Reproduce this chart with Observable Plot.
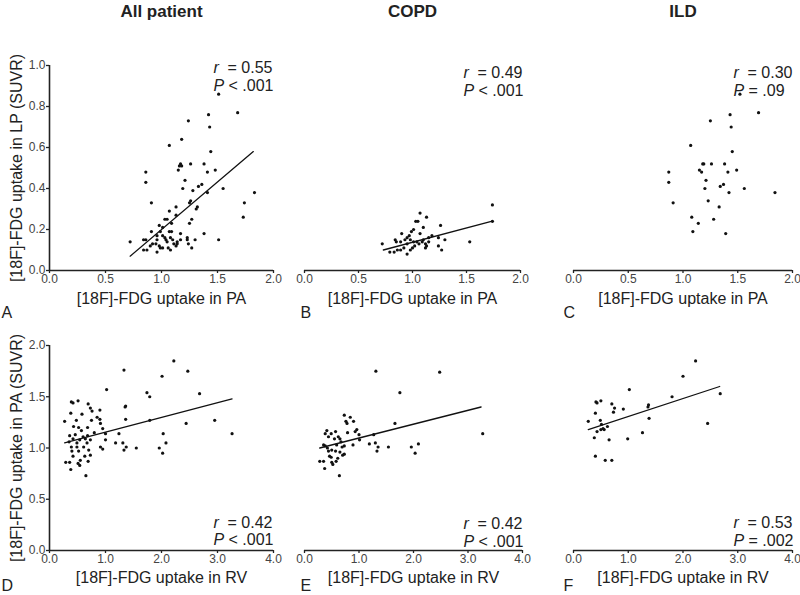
<!DOCTYPE html>
<html><head><meta charset="utf-8">
<script src="https://cdn.jsdelivr.net/npm/d3@7"></script>
<script src="https://cdn.jsdelivr.net/npm/@observablehq/plot@0.6"></script>
<style>
body{margin:0;background:#fff;}
#wrap{position:relative;width:800px;height:595px;overflow:hidden;font-family:"Liberation Sans",Arial,sans-serif;}
#wrap > div{position:absolute;}
</style></head><body><div id="wrap"></div>
<script>
// ---- data: [x, y] pairs ----
// Row 1: x = [18F]-FDG uptake in PA, y = [18F]-FDG uptake in LP (SUVR)
const pointsAllPA = [[1.51,0.86],[1.68,0.77],[1.42,0.76],[1.24,0.73],[1.43,0.70],[1.18,0.64],[1.07,0.61],[1.44,0.58],[0.86,0.48],[0.86,0.43],[1.17,0.52],[1.18,0.51],[1.16,0.51],[1.26,0.52],[1.38,0.52],[1.15,0.49],[1.48,0.49],[1.41,0.48],[1.21,0.44],[1.55,0.40],[1.19,0.40],[1.36,0.42],[1.33,0.41],[1.28,0.39],[1.41,0.38],[1.83,0.38],[0.91,0.33],[1.26,0.34],[1.25,0.33],[1.74,0.33],[1.13,0.31],[1.32,0.31],[1.31,0.30],[1.07,0.29],[1.13,0.27],[1.03,0.25],[1.05,0.25],[1.27,0.25],[1.73,0.26],[1.25,0.23],[1.09,0.23],[0.98,0.22],[1.01,0.21],[0.91,0.19],[0.99,0.19],[1.07,0.19],[1.09,0.19],[1.17,0.18],[1.38,0.18],[0.72,0.14],[0.84,0.15],[0.86,0.15],[0.96,0.17],[1.01,0.17],[1.04,0.15],[1.05,0.14],[1.10,0.15],[1.14,0.14],[1.17,0.15],[1.23,0.16],[1.23,0.15],[1.30,0.15],[1.51,0.15],[0.92,0.13],[0.95,0.13],[0.98,0.12],[0.99,0.11],[0.96,0.09],[1.01,0.11],[1.11,0.13],[1.13,0.12],[1.14,0.13],[1.24,0.13],[1.27,0.11],[0.84,0.10],[0.87,0.10],[0.90,0.12],[1.06,0.11],[1.08,0.10],[0.96,0.15],[1.03,0.16],[1.08,0.16]];
const fitAllPA = [[0.72,0.07],[1.82,0.58]];

const pointsCopdPA = [[1.74,0.32],[1.74,0.24],[1.07,0.28],[1.13,0.26],[1.03,0.24],[1.05,0.24],[1.26,0.22],[1.01,0.20],[0.99,0.19],[1.07,0.18],[0.90,0.18],[1.10,0.21],[0.97,0.17],[1.18,0.17],[1.24,0.16],[1.30,0.15],[1.53,0.14],[0.72,0.13],[0.84,0.15],[0.85,0.14],[0.95,0.13],[0.98,0.15],[1.01,0.14],[1.04,0.14],[1.06,0.13],[1.09,0.14],[1.12,0.13],[1.13,0.12],[1.15,0.14],[1.24,0.12],[1.27,0.10],[0.79,0.09],[0.83,0.09],[0.86,0.10],[0.89,0.10],[0.92,0.11],[0.95,0.08],[0.98,0.10],[1.00,0.11],[1.02,0.12],[1.12,0.11],[0.95,0.16],[0.89,0.14],[0.93,0.15],[1.15,0.16],[1.10,0.15]];
const fitCopdPA = [[0.73,0.10],[1.73,0.24]];

const pointsIldPA = [[1.52,0.86],[1.69,0.77],[1.43,0.76],[1.25,0.73],[1.44,0.70],[1.07,0.61],[1.45,0.58],[1.18,0.52],[1.19,0.52],[1.26,0.52],[1.38,0.52],[0.87,0.48],[1.15,0.49],[1.17,0.48],[1.41,0.48],[1.49,0.49],[0.87,0.43],[1.21,0.44],[1.20,0.40],[1.34,0.41],[1.37,0.42],[1.42,0.38],[1.56,0.40],[1.84,0.38],[0.91,0.33],[1.23,0.34],[1.33,0.31],[1.08,0.26],[1.28,0.25],[1.14,0.23],[1.09,0.19],[1.39,0.18]];

// Row 2: x = [18F]-FDG uptake in RV, y = [18F]-FDG uptake in PA (SUVR)
const pointsAllRV = [[2.22,1.85],[1.33,1.76],[2.47,1.75],[2.01,1.70],[1.02,1.57],[1.74,1.54],[2.68,1.53],[1.79,1.50],[0.39,1.45],[0.42,1.44],[0.51,1.46],[0.69,1.43],[0.73,1.39],[1.36,1.41],[1.35,1.40],[0.76,1.36],[0.38,1.34],[0.58,1.33],[0.90,1.37],[1.36,1.28],[0.85,1.30],[0.90,1.28],[2.95,1.27],[0.27,1.26],[0.48,1.27],[0.75,1.27],[1.79,1.27],[0.91,1.24],[2.44,1.24],[0.43,1.21],[0.52,1.20],[0.68,1.20],[0.57,1.17],[0.80,1.15],[0.95,1.19],[1.24,1.14],[1.00,1.14],[2.03,1.14],[3.26,1.14],[0.36,1.12],[0.46,1.13],[0.60,1.11],[0.68,1.12],[0.42,1.09],[0.54,1.08],[0.64,1.09],[0.73,1.08],[1.00,1.08],[0.35,1.06],[0.49,1.05],[0.67,1.05],[1.18,1.05],[1.31,1.05],[2.08,1.05],[0.39,1.01],[0.49,1.01],[0.61,1.01],[0.91,1.01],[1.37,1.01],[1.55,1.00],[1.96,1.00],[0.40,0.97],[0.52,0.97],[0.70,0.98],[0.95,0.99],[1.33,0.98],[2.02,0.95],[0.42,0.92],[0.63,0.92],[0.73,0.93],[0.55,0.88],[0.29,0.86],[0.36,0.86],[0.51,0.85],[0.54,0.83],[0.69,0.87],[0.38,0.79],[0.65,0.73]];
const fitAllRV = [[0.27,1.05],[3.26,1.48]];

const pointsCopdRV = [[1.31,1.75],[2.48,1.74],[1.75,1.54],[0.73,1.32],[0.84,1.30],[0.76,1.26],[0.90,1.26],[1.66,1.24],[0.78,1.24],[0.41,1.17],[0.49,1.14],[0.38,1.14],[0.44,1.11],[0.57,1.16],[0.62,1.11],[0.79,1.15],[0.96,1.18],[0.93,1.16],[1.00,1.13],[3.27,1.14],[1.27,1.13],[0.55,1.09],[0.65,1.09],[0.67,1.06],[1.01,1.08],[0.89,1.03],[1.19,1.04],[1.30,1.05],[0.35,1.03],[0.38,1.02],[0.42,1.00],[0.59,1.03],[0.69,1.01],[0.73,1.02],[1.35,1.01],[1.54,1.01],[1.96,1.01],[2.09,1.04],[0.44,0.97],[0.50,0.98],[0.57,0.97],[0.65,0.96],[1.33,0.97],[2.03,0.95],[0.46,0.92],[0.49,0.91],[0.61,0.90],[0.70,0.93],[0.73,0.94],[0.28,0.87],[0.35,0.87],[0.50,0.86],[0.52,0.84],[0.58,0.87],[0.37,0.80],[0.64,0.73]];
const fitCopdRV = [[0.28,1.00],[3.24,1.40]];

const pointsIldRV = [[2.23,1.85],[2.00,1.70],[1.02,1.57],[2.68,1.53],[1.80,1.50],[0.41,1.45],[0.50,1.46],[0.70,1.43],[0.43,1.44],[0.75,1.39],[0.91,1.38],[1.37,1.42],[1.36,1.40],[0.40,1.34],[0.73,1.35],[0.27,1.26],[0.49,1.27],[1.38,1.29],[0.51,1.23],[0.62,1.21],[0.54,1.19],[0.56,1.18],[0.50,1.18],[2.45,1.24],[0.43,1.16],[1.26,1.15],[0.38,1.10],[0.65,1.08],[0.99,1.09],[0.40,0.92],[0.58,0.88],[0.70,0.88]];
const fitIldRV = [[0.27,1.18],[2.67,1.60]];

const groupTitles = ["All patient", "COPD", "ILD"];
const panelLetters = ["A", "B", "C", "D", "E", "F"];
const rValues = [0.55, 0.49, 0.30, 0.42, 0.42, 0.53];
const pTexts = ["< .001", "< .001", "= .09", "< .001", "< .001", "= .002"];
const ticksPA = [0, 0.5, 1.0, 1.5, 2.0];
const ticksLP = [0, 0.2, 0.4, 0.6, 0.8, 1.0];
const ticksRV = [0, 1, 2, 3, 4];
const ticksPAsuvr = [0, 0.5, 1.0, 1.5, 2.0];
const xLabelRow1 = "[18F]-FDG uptake in PA";
const yLabelRow1 = "[18F]-FDG uptake in LP (SUVR)";
const xLabelRow2 = "[18F]-FDG uptake in RV";
const yLabelRow2 = "[18F]-FDG uptake in PA (SUVR)";

// ---- layout ----
const FONT = '"Liberation Sans", Arial, Helvetica, sans-serif';
const fmt = d3.format(".1f");
const wrap = document.getElementById("wrap");

function panel(c) {
  const mL = c.frame[0] - c.box[0], mR = c.box[0] + c.box[2] - c.frame[1];
  const mT = c.frame[2] - c.box[1], mB = c.box[1] + c.box[3] - c.frame[3];
  const T = {lineAnchor: "middle", fill: "#222"};
  const A = {tickSize: 3, tickPadding: 1, label: null, stroke: "#222", strokeWidth: 1.3, fill: "#444", fontSize: 12, tickFormat: fmt};
  const marks = [];
  marks.push(Plot.axisX({...A, ticks: c.xTicks}));
  if (c.showY) marks.push(Plot.axisY({...A, ticks: c.yTicks}));
  marks.push(Plot.ruleY([0], {stroke: "#222", strokeWidth: 1.6}));
  if (c.showY) marks.push(Plot.ruleX([0], {stroke: "#222", strokeWidth: 1.6}));
  marks.push(Plot.dot(c.pts, {x: d => d[0], y: d => d[1], r: 1.6, fill: "#111", stroke: null}));
  if (c.fit) marks.push(Plot.line(c.fit, {x: d => d[0], y: d => d[1], stroke: "#111", strokeWidth: 1.3}));
  marks.push(Plot.text([c.xLabel], {...T, text: d => d, frameAnchor: "bottom", textAnchor: "middle", dy: c.xLabelDy, fontSize: 16}));
  if (c.showY) marks.push(Plot.text([c.yLabel], {...T, text: d => d, frameAnchor: "left", textAnchor: "middle", rotate: -90, dx: -33, fontSize: 16}));
  if (c.title) marks.push(Plot.text([c.title], {...T, text: d => d, frameAnchor: "top", textAnchor: "middle", dy: -54, fontSize: 17, fontWeight: "bold"}));
  marks.push(Plot.text([c.letter], {...T, text: d => d, frameAnchor: "bottom-left", textAnchor: "start", dx: c.letterDx, dy: c.letterDy, fontSize: 16}));
  const sa = c.statAnchor;
  marks.push(Plot.text(["r"], {...T, text: d => d, frameAnchor: sa, textAnchor: "start", dx: c.statDx, dy: c.statDy[0], fontSize: 16, fontStyle: "italic"}));
  marks.push(Plot.text([c.r], {...T, text: d => "= " + d.toFixed(2), frameAnchor: sa, textAnchor: "start", dx: c.statDx + 14, dy: c.statDy[0], fontSize: 16}));
  marks.push(Plot.text(["P"], {...T, text: d => d, frameAnchor: sa, textAnchor: "start", dx: c.statDx, dy: c.statDy[1], fontSize: 16, fontStyle: "italic"}));
  marks.push(Plot.text([c.p], {...T, text: d => d, frameAnchor: sa, textAnchor: "start", dx: c.statDx + 15, dy: c.statDy[1], fontSize: 16}));
  const svg = Plot.plot({
    width: c.box[2], height: c.box[3],
    marginLeft: mL, marginRight: mR, marginTop: mT, marginBottom: mB,
    x: {domain: c.xDomain},
    y: c.showY ? {domain: c.yDomain} : {domain: c.yDomain, axis: null},
    style: {background: "transparent", fontSize: "12px", fontFamily: FONT, color: "#222", overflow: "visible"},
    marks
  });
  const div = document.createElement("div");
  div.style.left = c.box[0] + "px";
  div.style.top = c.box[1] + "px";
  div.appendChild(svg);
  wrap.appendChild(div);
}

const row1 = {xDomain: [0, 2], yDomain: [0, 1], xTicks: ticksPA, yTicks: ticksLP, xLabel: xLabelRow1, yLabel: yLabelRow1, xLabelDy: 28, letterDy: 42, statAnchor: "top-right"};
const row2 = {xDomain: [0, 4], yDomain: [0, 2], xTicks: ticksRV, yTicks: ticksPAsuvr, xLabel: xLabelRow2, yLabel: yLabelRow2, xLabelDy: 27, letterDy: 35, statAnchor: "bottom-right"};

panel({...row1, box: [0, 0, 290, 320], frame: [49, 273, 65, 270], showY: true, pts: pointsAllPA, fit: fitAllPA, title: groupTitles[0], letter: panelLetters[0], letterDx: -48, r: rValues[0], p: pTexts[0], statDx: -60, statDy: [2, 20]});
panel({...row1, box: [290, 0, 250, 320], frame: [304, 520, 65, 270], showY: false, pts: pointsCopdPA, fit: fitCopdPA, title: groupTitles[1], letter: panelLetters[1], letterDx: -4, r: rValues[1], p: pTexts[1], statDx: -57, statDy: [7, 25]});
panel({...row1, box: [540, 0, 260, 320], frame: [573, 792, 65, 270], showY: false, pts: pointsIldPA, fit: null, title: groupTitles[2], letter: panelLetters[2], letterDx: -10, r: rValues[2], p: pTexts[2], statDx: -59, statDy: [7, 25]});
panel({...row2, box: [0, 320, 290, 275], frame: [49, 273, 345, 550], showY: true, pts: pointsAllRV, fit: fitAllRV, title: null, letter: panelLetters[3], letterDx: -48, r: rValues[3], p: pTexts[3], statDx: -60, statDy: [-28, -11]});
panel({...row2, box: [290, 320, 250, 275], frame: [304, 522, 345, 550], showY: false, pts: pointsCopdRV, fit: fitCopdRV, title: null, letter: panelLetters[4], letterDx: -4, r: rValues[4], p: pTexts[4], statDx: -59, statDy: [-27, -9]});
panel({...row2, box: [540, 320, 260, 275], frame: [573, 792, 345, 550], showY: false, pts: pointsIldRV, fit: fitIldRV, title: null, letter: panelLetters[5], letterDx: -10, r: rValues[5], p: pTexts[5], statDx: -59, statDy: [-28, -10]});
</script></body></html>
